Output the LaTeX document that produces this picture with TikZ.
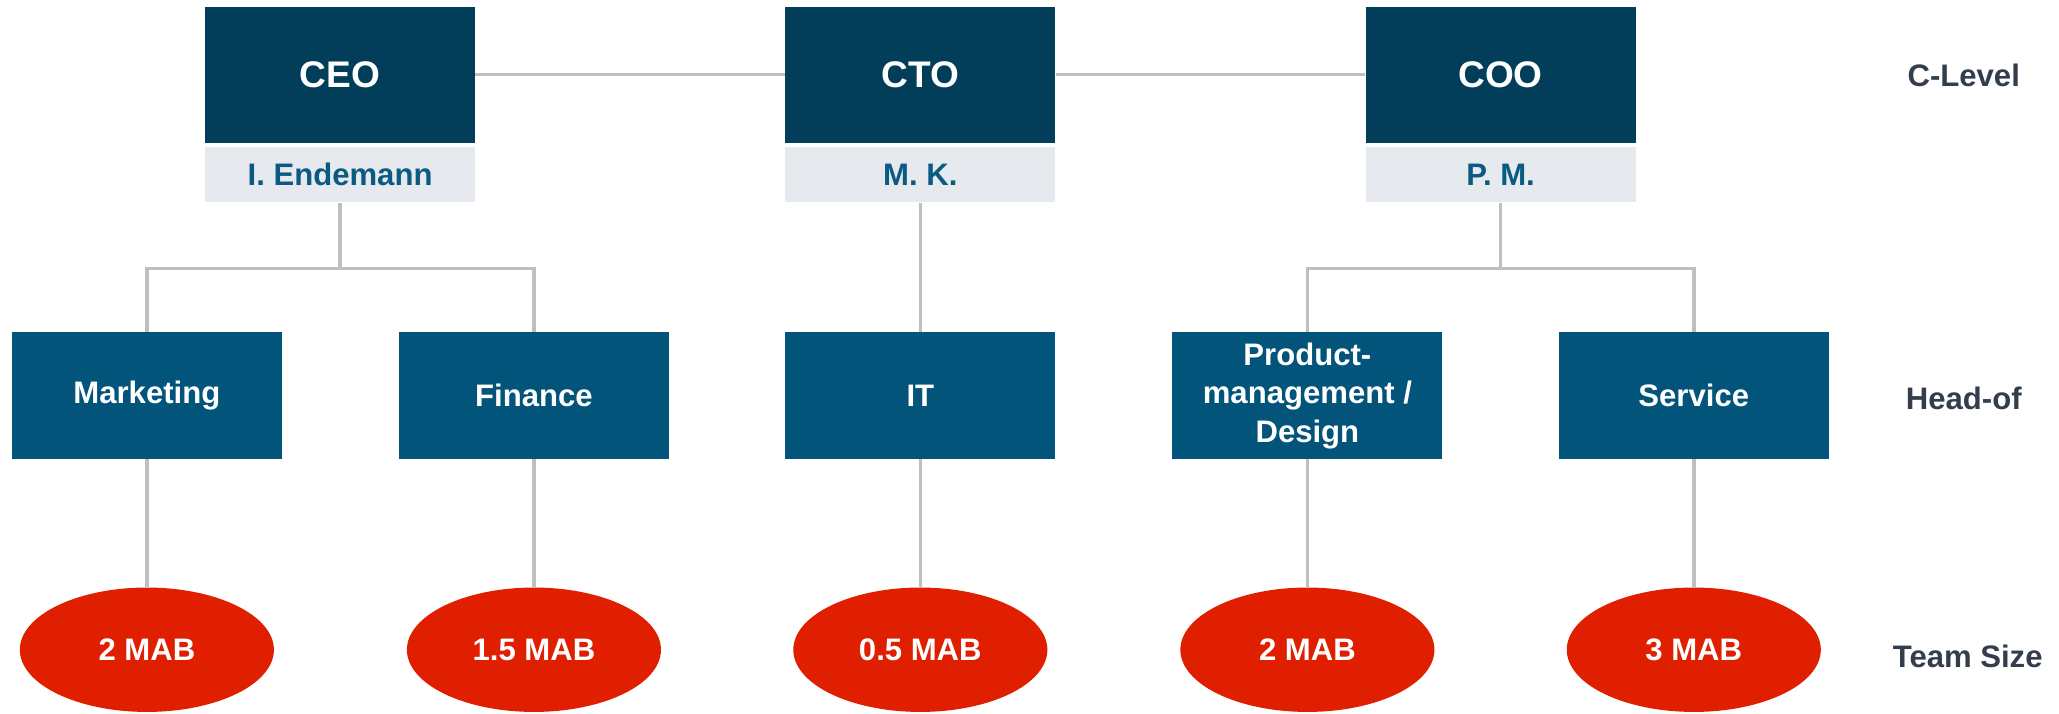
\documentclass[tikz,border=0pt]{standalone}
\usepackage{fontspec}
\setmainfont{Liberation Sans}
\usetikzlibrary{shapes.geometric}
\definecolor{clevel}{HTML}{023E5A}
\definecolor{headof}{HTML}{02547A}
\definecolor{namebg}{HTML}{E6E9EE}
\definecolor{nametext}{HTML}{0A5A82}
\definecolor{teamred}{HTML}{E01E00}
\definecolor{linegray}{HTML}{BFBFBF}
\definecolor{lvltext}{HTML}{333D4C}
\begin{document}
\begin{tikzpicture}[x=1pt,y=-1pt,
  every node/.style={font=\bfseries\fontsize{23.5}{29}\selectfont, inner sep=0pt},
  cbox/.style={fill=clevel, text=white, minimum width=204pt, minimum height=103pt, font=\bfseries\fontsize{28}{34}\selectfont},
  namebox/.style={fill=namebg, text=nametext, minimum width=204pt, minimum height=42pt},
  hbox/.style={fill=headof, text=white, minimum width=204pt, minimum height=96pt, align=center},
  team/.style={ellipse, fill=teamred, text=white, minimum width=192pt, minimum height=94pt},
  lvl/.style={text=lvltext},
  conn/.style={draw=linegray, line width=2.6pt}
]
\useasboundingbox (0,0) rectangle (1556,539);
% C-level
\node[cbox] (ceo) at (257,56.5) {CEO};
\node[cbox] (cto) at (695.5,56.5) {CTO};
\node[cbox] (coo) at (1134,56.5) {COO};
\node[namebox] (ceon) at (257,132) {I. Endemann};
\node[namebox] (cton) at (695.5,132) {M. K.};
\node[namebox] (coon) at (1134,132) {P. M.};
% Head-of
\node[hbox] (mkt) at (111,299) {Marketing};
\node[hbox] (fin) at (403.5,299) {Finance};
\node[hbox] (it) at (695.5,299) {IT};
\node[hbox] (prod) at (988,299) {Product-\\management /\\Design};
\node[hbox] (serv) at (1280,299) {Service};
% Team size
\node[team] (tmkt) at (111,491) {2 MAB};
\node[team] (tfin) at (403.5,491) {1.5 MAB};
\node[team] (tit) at (695.5,491) {0.5 MAB};
\node[team] (tprod) at (988,491) {2 MAB};
\node[team] (tserv) at (1280,491) {3 MAB};
% level labels
\node[lvl] (l1) at (1484,57) {C-Level};
\node[lvl] (l2) at (1484,301) {Head-of};
\node[lvl] (l3) at (1487,496) {Team Size};
% connectors
\coordinate (b1) at (257,203);
\coordinate (b3) at (1134,203);
\draw[conn] (ceo.east) -- (cto.west);
\draw[conn] (cto.east) -- (coo.west);
\draw[conn] (ceon.south) -- (b1);
\draw[conn] (mkt.north) |- (b1) -| (fin.north);
\draw[conn] (cton.south) -- (it.north);
\draw[conn] (coon.south) -- (b3);
\draw[conn] (prod.north) |- (b3) -| (serv.north);
\draw[conn] (mkt.south) -- (tmkt.north);
\draw[conn] (fin.south) -- (tfin.north);
\draw[conn] (it.south) -- (tit.north);
\draw[conn] (prod.south) -- (tprod.north);
\draw[conn] (serv.south) -- (tserv.north);
\end{tikzpicture}
\end{document}
